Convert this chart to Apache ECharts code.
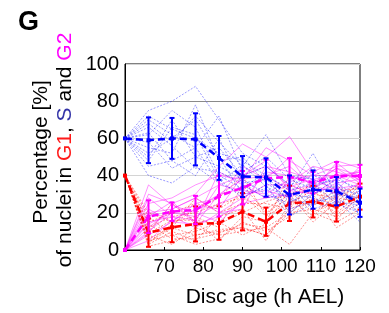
<!DOCTYPE html>
<html>
<head>
<meta charset="utf-8">
<script src="https://cdn.jsdelivr.net/npm/echarts@6/dist/echarts.min.js"></script>
<style>
html,body{margin:0;padding:0;background:#fff;}
#chart{width:389px;height:313px;}
</style>
</head>
<body>
<div id="chart"></div>
<script>
// Disc age (h AEL) for every measurement
const ages = [60, 66, 72, 78, 84, 90, 96, 102, 108, 114, 120];
const xTicks = [70, 80, 90, 100, 110, 120];
const yTicks = [0, 20, 40, 60, 80, 100];

// Means and error bars
const sMean  = [60, 59, 60, 59.5, 49.5, 39.5, 39, 29.6, 32.5, 31.6, 25.4];
const sErr   = [0, 12.3, 11, 14, 11.8, 11, 10.3, 10.5, 10.3, 7.6, 7.6];
const g1Mean = [40, 9.3, 12.2, 14, 14.5, 20.6, 15.2, 25.1, 26, 23.3, 28.7];
const g1Err  = [0, 7.6, 8, 9.4, 9, 10, 7.6, 9.5, 8.5, 8, 7];
const g2Mean = [0, 17.9, 20.6, 21.5, 29, 33.5, 38.5, 39.4, 36.2, 39.8, 39.8];
const g2Err  = [0, 8.8, 5, 7.6, 11, 9, 10, 10, 5.7, 7.5, 6];

// Individual discs (thin traces)
const sTraces = [
  [60, 75, 80, 88, 70, 52, 45, 35, 40, 36, 28],
  [60, 40, 36, 45, 36, 30, 33, 22, 26, 28, 20],
  [60, 68, 58, 72, 58, 45, 62, 40, 38, 33, 30],
  [60, 50, 70, 50, 45, 38, 30, 25, 35, 38, 18],
  [60, 72, 65, 60, 52, 48, 40, 33, 52, 30, 25],
  [60, 45, 48, 40, 60, 35, 28, 30, 28, 24, 32],
  [60, 62, 75, 66, 40, 33, 42, 20, 30, 35, 22],
  [60, 55, 52, 78, 48, 50, 36, 28, 45, 27, 15],
  [60, 70, 62, 55, 72, 42, 50, 38, 33, 40, 30],
  [60, 48, 66, 62, 38, 28, 35, 18, 25, 32, 27],
  [60, 58, 44, 50, 55, 40, 45, 35, 22, 26, 24],
  [60, 66, 56, 44, 42, 36, 38, 26, 30, 38, 33],
  [60, 52, 60, 70, 50, 30, 40, 32, 36, 25, 20],
  [60, 63, 48, 55, 36, 46, 34, 28, 24, 30, 28]
];
const g1Traces = [
  [40, 2, 5, 8, 10, 12, 8, 20, 22, 18, 25],
  [40, 15, 20, 25, 22, 30, 18, 35, 30, 28, 35],
  [40, 5, 8, 3, 6, 15, 10, 18, 28, 20, 30],
  [40, 12, 18, 20, 25, 28, 22, 30, 35, 25, 32],
  [40, 8, 3, 12, 8, 10, 12, 3, 20, 15, 22],
  [40, 20, 15, 18, 12, 35, 20, 28, 18, 30, 28],
  [40, 3, 10, 5, 18, 22, 5, 25, 32, 22, 35],
  [40, 10, 25, 15, 5, 18, 15, 40, 25, 35, 24],
  [40, 6, 12, 28, 20, 25, 25, 22, 38, 16, 30],
  [40, 18, 8, 10, 15, 8, 14, 32, 20, 28, 26],
  [40, 4, 14, 22, 28, 40, 18, 26, 24, 32, 33],
  [40, 14, 6, 6, 9, 14, 12, 20, 30, 12, 20],
  [40, 9, 16, 16, 14, 20, 26, 30, 15, 26, 36],
  [40, 4, 12, 8, 11, 12, 8, 22, 27, 19, 28]
];
const g2Traces = [
  [0, 30, 25, 30, 45, 57, 50, 61, 42, 48, 44],
  [0, 8, 15, 14, 18, 25, 28, 30, 32, 33, 35],
  [0, 20, 22, 28, 35, 40, 45, 42, 38, 40, 42],
  [0, 15, 18, 12, 20, 28, 35, 35, 30, 36, 38],
  [0, 25, 28, 35, 40, 38, 55, 48, 40, 45, 46],
  [0, 10, 20, 18, 25, 30, 32, 28, 35, 30, 36],
  [0, 35, 24, 20, 15, 26, 42, 40, 36, 44, 40],
  [0, 5, 16, 22, 30, 38, 40, 45, 34, 38, 43],
  [0, 18, 26, 15, 42, 35, 28, 36, 45, 42, 38],
  [0, 22, 15, 25, 28, 45, 38, 50, 32, 47, 37],
  [0, 12, 22, 28, 20, 22, 45, 34, 38, 32, 45],
  [0, 28, 18, 16, 35, 32, 30, 38, 40, 40, 35],
  [0, 14, 20, 24, 22, 40, 48, 32, 30, 38, 42],
  [0, 9, 25, 14, 30, 33, 40, 32, 35, 44, 36]
];

const RED = '#ff0000', BLUE = '#0000ff', MAG = '#ff00ff';
const FONT = '"Liberation Sans", Arial, Helvetica, sans-serif';

function pairs(vals) { return ages.map((a, i) => [a, vals[i]]); }

const series = [];
function addTraces(list, color, type, opacity) {
  list.forEach(tr => {
    series.push({
      type: 'line', data: pairs(tr), showSymbol: false, silent: true,
      lineStyle: { color: color, width: 0.8, type: type, opacity: opacity },
      z: 1
    });
  });
}
addTraces(g1Traces, RED, [2, 1.5], 0.55);
addTraces(g2Traces, MAG, 'solid', 0.55);
addTraces(sTraces, BLUE, [2, 1.5], 0.5);

function addMean(mean, err, color, z) {
  series.push({
    type: 'custom', z: z,
    data: ages.map((a, i) => [a, mean[i], err[i]]),
    renderItem: function (params, api) {
      const x = api.value(0), m = api.value(1), e = api.value(2);
      if (!e) return null;
      const top = api.coord([x, m + e]);
      const bot = api.coord([x, m - e]);
      const cw = 2.5;
      const st = { stroke: color, lineWidth: 2 };
      return {
        type: 'group',
        children: [
          { type: 'line', shape: { x1: top[0], y1: top[1], x2: bot[0], y2: bot[1] }, style: st },
          { type: 'line', shape: { x1: top[0] - cw, y1: top[1], x2: top[0] + cw, y2: top[1] }, style: st },
          { type: 'line', shape: { x1: bot[0] - cw, y1: bot[1], x2: bot[0] + cw, y2: bot[1] }, style: st }
        ]
      };
    }
  });
  series.push({
    type: 'line', data: pairs(mean), z: z + 1,
    symbol: 'rect', symbolSize: 4,
    itemStyle: { color: color },
    lineStyle: { color: color, width: 2.5, type: [7, 4] }
  });
}
addMean(g1Mean, g1Err, RED, 5);
addMean(g2Mean, g2Err, MAG, 7);
addMean(sMean, sErr, BLUE, 9);

const chart = echarts.init(document.getElementById('chart'), null, { renderer: 'canvas' });
chart.setOption({
  animation: false,
  backgroundColor: '#fff',
  textStyle: { fontFamily: FONT },
  grid: { left: 125, right: 29, top: 64, bottom: 63, show: true, borderColor: '#000', borderWidth: 1, backgroundColor: 'transparent' },
  xAxis: {
    type: 'value', min: ages[0], max: xTicks[xTicks.length - 1], interval: 10,
    axisLine: { lineStyle: { color: '#000', width: 1 } },
    axisTick: { show: true, inside: true, length: 3, lineStyle: { color: '#000' } },
    axisLabel: {
      color: '#000', fontSize: 19, fontFamily: FONT, margin: 7, showMinLabel: false,
      formatter: v => (xTicks.indexOf(v) >= 0 ? String(v) : '')
    },
    splitLine: { show: false }
  },
  yAxis: {
    type: 'value', min: yTicks[0], max: yTicks[yTicks.length - 1], interval: 20,
    axisLine: { show: true, lineStyle: { color: '#000', width: 1 } },
    axisTick: { show: false },
    axisLabel: { color: '#000', fontSize: 20, fontFamily: FONT, margin: 6 },
    splitLine: { show: true, lineStyle: { color: ['#d4d4d4', '#d4d4d4', '#d4d4d4', '#d4d4d4', '#8a8a8a', '#d4d4d4'], width: 1 } }
  },
  graphic: [
    { type: 'text', left: 18, top: 9, style: { text: 'G', font: 'bold 27px ' + FONT, fill: '#000' } },
    { type: 'text', x: 41, y: 152, rotation: Math.PI / 2,
      style: { text: 'Percentage [%]', font: '21px ' + FONT, fill: '#000', align: 'center', verticalAlign: 'middle' } },
    { type: 'text', x: 65, y: 150, rotation: Math.PI / 2,
      style: {
        text: '{k|of nuclei in }{r|G1}{k|, }{b|S}{k| and }{m|G2}',
        align: 'center', verticalAlign: 'middle', font: '21px ' + FONT,
        rich: {
          k: { fill: '#000', fontSize: 21, fontFamily: FONT },
          r: { fill: '#ff1a1a', fontSize: 21, fontFamily: FONT },
          b: { fill: '#3434a8', fontSize: 21, fontFamily: FONT },
          m: { fill: '#ff00ff', fontSize: 21, fontFamily: FONT }
        }
      } },
    { type: 'text', x: 265, y: 297,
      style: { text: 'Disc age (h AEL)', font: '21px ' + FONT, fill: '#000', align: 'center', verticalAlign: 'middle' } }
  ],
  series: series
});
</script>
</body>
</html>
